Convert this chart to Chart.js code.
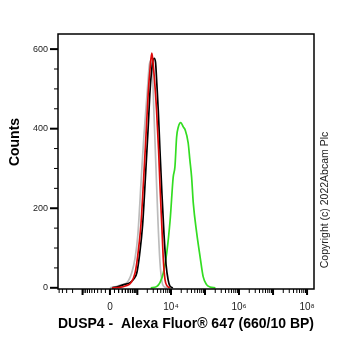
<!DOCTYPE html>
<html><head><meta charset="utf-8">
<script src="https://cdn.jsdelivr.net/npm/chart.js@4/dist/chart.umd.min.js"></script>
<style>html,body{margin:0;padding:0;background:#fff}#wrap{width:362px;height:351px;position:relative}</style>
</head><body><div id="wrap"><canvas id="c"></canvas></div>
<script>
// ---- text ----
const xAxisTitle = "DUSP4 -  Alexa Fluor\u00AE 647 (660/10 BP)";
const yAxisTitle = "Counts";
const copyrightText = "Copyright (c) 2022Abcam Plc";

// ---- histogram data (x = display position in biexponential decades, y = counts) ----
const redX   = [0.06, 0.29, 0.47, 0.62, 0.74, 0.82, 0.91, 1.00, 1.06, 1.13, 1.18, 1.23, 1.26, 1.31, 1.37, 1.43, 1.47, 1.53, 1.57, 1.62, 1.68, 1.76];
const redY   = [0, 1, 5, 13, 38, 83, 158, 289, 384, 497, 552, 590, 572, 522, 447, 346, 259, 146, 70, 20, 5, 0];
const blackX = [0.06, 0.24, 0.41, 0.59, 0.71, 0.79, 0.87, 0.96, 1.05, 1.12, 1.18, 1.24, 1.30, 1.34, 1.38, 1.42, 1.47, 1.53, 1.59, 1.65, 1.71, 1.76, 1.85];
const blackY = [0, 3, 8, 13, 23, 38, 83, 158, 289, 397, 497, 557, 577, 567, 510, 447, 346, 233, 133, 58, 20, 5, 0];
const grayX  = [0.00, 0.18, 0.35, 0.50, 0.64, 0.74, 0.82, 0.93, 1.00, 1.10, 1.16, 1.21, 1.25, 1.29, 1.35, 1.41, 1.47, 1.53, 1.59, 1.68];
const grayY  = [0, 3, 8, 13, 38, 75, 133, 289, 384, 497, 562, 572, 542, 447, 309, 171, 65, 15, 3, 0];
const greenX = [1.20, 1.37, 1.47, 1.57, 1.67, 1.77, 1.86, 1.91, 1.96, 2.01, 2.08, 2.16, 2.21, 2.30, 2.35, 2.40, 2.45, 2.55, 2.65, 2.74, 2.84, 2.94, 3.10];
const greenY = [0, 3, 13, 38, 88, 171, 279, 304, 379, 404, 415, 404, 397, 364, 321, 279, 213, 138, 78, 28, 8, 2, 0];

// ---- axis ticks ----
const yTickValues = [0, 50, 100, 150, 200, 250, 300, 350, 400, 450, 500, 550, 600];
const yTickLabels = ["0", "", "", "", "200", "", "", "", "400", "", "", "", "600"];
const xMajorRaw   = [-1000, 0, 1000, 1e4, 1e5, 1e6, 1e7, 1e8];
const xLabelRaw   = [0, 1e4, 1e6, 1e8];
const xLabelText  = ["0", "10\u2074", "10\u2076", "10\u2078"];
const xRawMin = -5400, xRawMax = 1.6e8;
const biexWidth = 321;

// biexponential (asinh) display transform
const toDisplay = v => Math.asinh(v / biexWidth) / Math.LN10;

// minor ticks: multiples inside each decade (positive & negative)
const xMinorRaw = [];
for (let k = 2; k <= 7; k++) for (let m = 2; m <= 9; m++) xMinorRaw.push(m * Math.pow(10, k));
for (let m = 1; m <= 9; m++) { xMinorRaw.push(m * 100); xMinorRaw.push(-m * 100); }
for (let m = 2; m <= 5; m++) xMinorRaw.push(-m * 1000);

const mk = (xs, ys) => xs.map((x, i) => ({x, y: ys[i]}));
const FONT = '"Liberation Sans", Arial, sans-serif';

const frameTicks = {
  id: 'frameTicks',
  afterDraw(chart) {
    const {ctx, chartArea: a, scales: {x, y}} = chart;
    ctx.save();
    ctx.strokeStyle = '#000';
    ctx.lineWidth = 1.5;
    ctx.strokeRect(a.left, a.top, a.right - a.left, a.bottom - a.top);
    y.ticks.forEach(t => {
      const p = y.getPixelForValue(t.value);
      const maj = t.value % 200 === 0;
      ctx.lineWidth = maj ? 2 : 1;
      ctx.beginPath(); ctx.moveTo(a.left - (maj ? 8 : 4), p); ctx.lineTo(a.left, p); ctx.stroke();
    });
    x.ticks.forEach(t => {
      const p = x.getPixelForValue(t.value);
      const maj = !!t.major;
      ctx.lineWidth = maj ? 2 : 1;
      ctx.beginPath(); ctx.moveTo(p, a.bottom); ctx.lineTo(p, a.bottom + (maj ? 6 : 4)); ctx.stroke();
    });
    // y-axis title
    ctx.save();
    ctx.translate(15, 142);
    ctx.rotate(-Math.PI / 2);
    ctx.fillStyle = '#000';
    ctx.font = 'bold 14px ' + FONT;
    ctx.textAlign = 'center';
    ctx.textBaseline = 'middle';
    ctx.fillText(yAxisTitle, 0, 0);
    ctx.restore();
    // copyright
    ctx.translate(325, 200);
    ctx.rotate(-Math.PI / 2);
    ctx.fillStyle = '#222';
    ctx.font = '10.5px ' + FONT;
    ctx.textAlign = 'center';
    ctx.textBaseline = 'middle';
    ctx.fillText(copyrightText, 0, 0);
    ctx.restore();
  }
};

const lineDs = (label, data, color, w) => ({
  label, data, borderColor: color, borderWidth: w, pointRadius: 0,
  fill: false, tension: 0.35, cubicInterpolationMode: 'monotone'
});

new Chart(document.getElementById('c'), {
  type: 'line',
  data: {
    datasets: [
      lineDs('Red', mk(redX, redY), '#dd0a0a', 1.7),
      lineDs('Black', mk(blackX, blackY), '#000000', 1.7),
      lineDs('Green', mk(greenX, greenY), '#33dd22', 1.7),
      lineDs('Gray', mk(grayX, grayY), '#bcbcbc', 1.7)
    ]
  },
  options: {
    responsive: true, maintainAspectRatio: false, animation: false,
    devicePixelRatio: 1,
    layout: {padding: {left: 0, top: 34, right: 48, bottom: 0}},
    plugins: {legend: {display: false}, tooltip: {enabled: false}},
    scales: {
      x: {
        type: 'linear', position: 'bottom',
        min: toDisplay(xRawMin), max: toDisplay(xRawMax),
        grid: {display: false, drawTicks: false},
        border: {display: false},
        afterBuildTicks: s => {
          s.ticks = xMajorRaw.map(v => ({value: toDisplay(v), major: true}))
            .concat(xMinorRaw.map(v => ({value: toDisplay(v), major: false})));
        },
        afterFit: s => { s.height = 62; },
        ticks: {
          autoSkip: false, maxRotation: 0, padding: 12, color: '#222',
          font: {family: FONT, size: 10},
          callback: (v) => {
            for (let i = 0; i < xLabelRaw.length; i++) if (Math.abs(toDisplay(xLabelRaw[i]) - v) < 1e-9) return xLabelText[i];
            return '';
          }
        },
        title: {display: true, text: xAxisTitle, color: '#000',
          font: {family: FONT, size: 14, weight: 'bold'},
          padding: {top: 0, bottom: 18}}
      },
      y: {
        type: 'linear', position: 'left', min: -3, max: 638,
        grid: {display: false, drawTicks: false},
        border: {display: false},
        afterBuildTicks: s => { s.ticks = yTickValues.map(v => ({value: v})); },
        afterFit: s => { s.width = 58; },
        ticks: {
          autoSkip: false, padding: 10, color: '#222',
          font: {family: FONT, size: 9},
          callback: (v) => { const i = yTickValues.indexOf(v); return i >= 0 ? yTickLabels[i] : ''; }
        },
        title: {display: false}
      }
    }
  },
  plugins: [frameTicks]
});
</script>
</body></html>
